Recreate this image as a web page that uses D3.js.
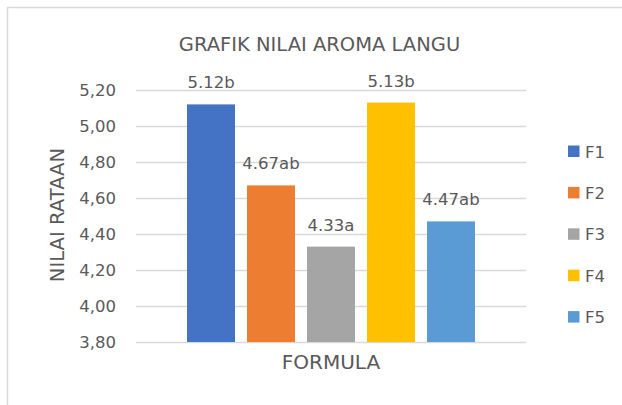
<!DOCTYPE html>
<html><head><meta charset="utf-8">
<script src="https://cdn.jsdelivr.net/npm/d3@7"></script>
<style>body{margin:0;background:#fff;}svg{display:block;font-family:"DejaVu Sans",sans-serif;}</style>
</head><body>
<svg id="c" width="622" height="405"></svg>
<script>
const series = ["F1","F2","F3","F4","F5"];
const values = [5.12, 4.67, 4.33, 5.13, 4.47];
const labels = ["5.12b","4.67ab","4.33a","5.13b","4.47ab"];
const colors = ["#4472C4","#ED7D31","#A5A5A5","#FFC000","#5B9BD5"];
const yTicks = [3.8,4.0,4.2,4.4,4.6,4.8,5.0,5.2];
const title = "GRAFIK NILAI AROMA LANGU";
const yTitle = "NILAI RATAAN";
const xTitle = "FORMULA";

const svg = d3.select("#c");
const W = 622, H = 405;
const txt = "#595959";
const plot = {left:136, right:526, top:90, bottom:342};

svg.append("rect").attr("x",7.5).attr("y",7.5).attr("width",W).attr("height",H)
  .attr("fill","#fff").attr("stroke","#d9d9d9").attr("stroke-width",1.5);

const y = d3.scaleLinear().domain([3.8,5.2]).range([plot.bottom, plot.top]);
const inset = 51;
const x = d3.scaleBand().domain(series).range([plot.left+inset, plot.right-inset]).paddingInner(0.2).paddingOuter(0);

const fmt = d => d.toFixed(2).replace(".", ",");
const yAxis = d3.axisLeft(y).tickValues(yTicks).tickFormat(fmt).tickSize(-(plot.right-plot.left)).tickPadding(20);
const gy = svg.append("g").attr("transform",`translate(${plot.left},0)`).call(yAxis);
gy.select(".domain").remove();
gy.selectAll(".tick line").attr("stroke","#d9d9d9").attr("stroke-width",1.5);
gy.selectAll(".tick text").attr("fill",txt).style("font-size","16.5px").style("font-family","'DejaVu Sans',sans-serif");

svg.append("g").selectAll("rect").data(series).join("rect")
  .attr("x",d=>x(d)).attr("width",x.bandwidth())
  .attr("y",(d,i)=>y(values[i])).attr("height",(d,i)=>y(3.8)-y(values[i]))
  .attr("fill",(d,i)=>colors[i]);

svg.append("g").selectAll("text").data(series).join("text")
  .attr("x",d=>x(d)+x.bandwidth()/2).attr("y",(d,i)=>y(values[i])-16)
  .attr("text-anchor","middle").attr("fill",txt).style("font-size","16.5px")
  .text((d,i)=>labels[i]);

svg.append("text").attr("x",319.5).attr("y",50.5).attr("text-anchor","middle")
  .attr("fill",txt).style("font-size","19.5px").text(title);
svg.append("text").attr("transform",`translate(64,215) rotate(-90)`).attr("text-anchor","middle")
  .attr("fill",txt).style("font-size","19.6px").text(yTitle);
svg.append("text").attr("x",(plot.left+plot.right)/2).attr("y",369).attr("text-anchor","middle")
  .attr("fill",txt).style("font-size","20px").text(xTitle);

const leg = svg.append("g").selectAll("g").data(series).join("g")
  .attr("transform",(d,i)=>`translate(568,${151.5 + i*41.4})`);
leg.append("rect").attr("x",0).attr("y",-6).attr("width",11.5).attr("height",11.5).attr("fill",(d,i)=>colors[i]);
leg.append("text").attr("x",17).attr("y",6).attr("fill",txt).style("font-size","16.5px").text(d=>d);
</script>
</body></html>
